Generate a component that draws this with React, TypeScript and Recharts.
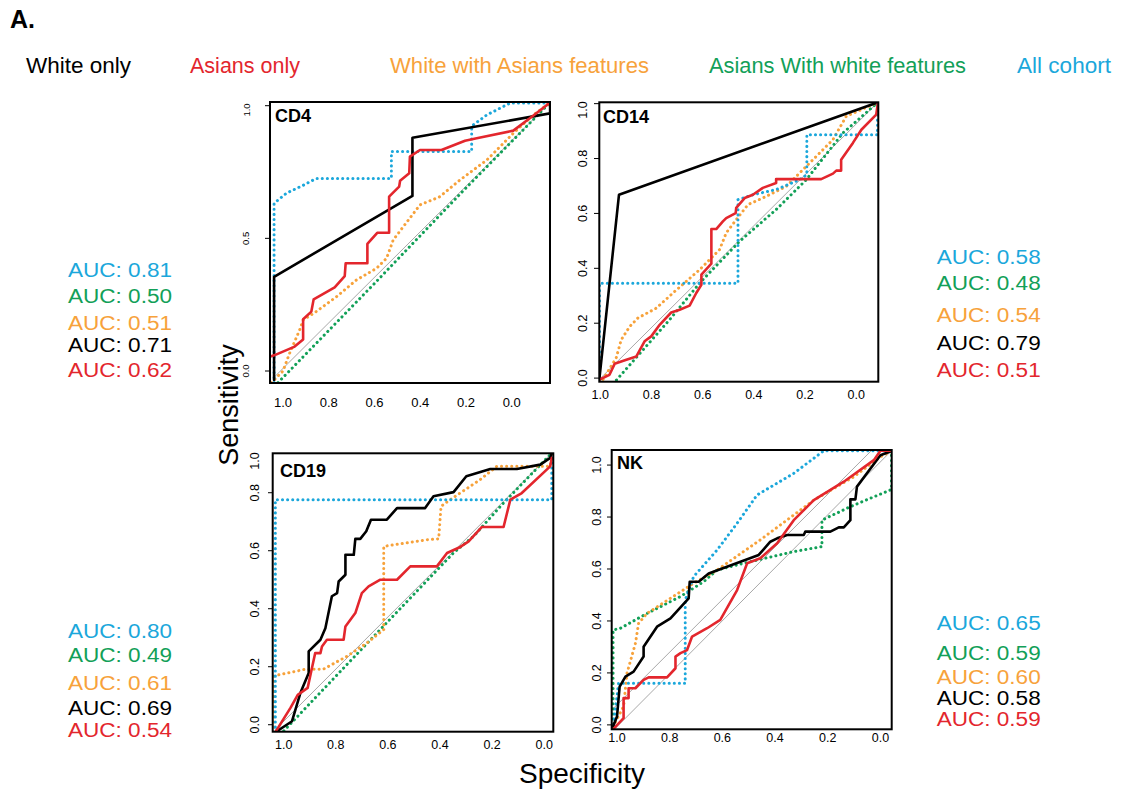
import { Line, LineChart, XAxis, YAxis } from "recharts";

type Pair = [number, number];

// Legend / series names
const SERIES = ["White only", "Asians only", "White with Asians features", "Asians With white features", "All cohort"];
const SERIES_COLORS = ["#000000", "#e3262d", "#f7a23b", "#12a058", "#1ba7db"];

// AUC labels, in the order printed: All cohort, Asians w/ white, White w/ Asians, White only, Asians only
const AUC_CD4 = [0.81, 0.5, 0.51, 0.71, 0.62];
const AUC_CD14 = [0.58, 0.48, 0.54, 0.79, 0.51];
const AUC_CD19 = [0.8, 0.49, 0.61, 0.69, 0.54];
const AUC_NK = [0.65, 0.59, 0.6, 0.58, 0.59];
const AUC_COLORS = ["#1ba7db", "#12a058", "#f7a23b", "#000000", "#e3262d"];

const X_TICKS = [0, 0.2, 0.4, 0.6, 0.8, 1.0];
const Y_TICKS = [0, 0.2, 0.4, 0.6, 0.8, 1.0];
const Y_TICKS_CD4 = [0, 0.5, 1.0];

// [specificity, sensitivity]
const CD4_WHITE: Pair[] = [[1.039, -0.034], [1.039, 0.355], [0.434, 0.66], [0.434, 0.879], [-0.168, 0.971], [-0.168, 1.012]];
const CD4_ASIAN: Pair[] = [[1.058, -0.044], [1.058, 0.054], [1.036, 0.06], [0.949, 0.092], [0.912, 0.119], [0.912, 0.195], [0.876, 0.224], [0.866, 0.27], [0.774, 0.315], [0.73, 0.358], [0.726, 0.406], [0.631, 0.406], [0.631, 0.479], [0.588, 0.521], [0.536, 0.521], [0.536, 0.657], [0.492, 0.695], [0.488, 0.717], [0.448, 0.745], [0.445, 0.808], [0.401, 0.833], [0.307, 0.833], [0.204, 0.868], [0.153, 0.877], [-0.007, 0.906], [-0.088, 0.958], [-0.168, 1.012]];
const CD4_WA: Pair[] = [[1.051, -0.044], [1.0, 0.0], [0.971, 0.067], [0.927, 0.155], [0.912, 0.192], [0.861, 0.22], [0.766, 0.28], [0.679, 0.343], [0.591, 0.387], [0.547, 0.425], [0.518, 0.494], [0.474, 0.544], [0.401, 0.626], [0.314, 0.657], [0.226, 0.72], [0.109, 0.795], [-0.007, 0.896], [-0.095, 0.965], [-0.168, 1.012]];
const CD4_AW: Pair[] = [[1.022, -0.044], [0.6, 0.33], [0.2, 0.69], [-0.168, 1.012]];
const CD4_ALL: Pair[] = [[1.039, -0.044], [1.039, 0.632], [0.985, 0.67], [0.912, 0.7], [0.854, 0.726], [0.526, 0.726], [0.526, 0.827], [0.175, 0.827], [0.175, 0.923], [0.109, 0.965], [0.007, 1.01], [-0.168, 1.01]];
const CD4_REF: Pair[] = [[1.044, -0.028], [-0.168, 1.012]];

const CD14_WHITE: Pair[] = [[1.005, -0.016], [0.927, 0.668], [-0.085, 1.005]];
const CD14_ASIAN: Pair[] = [[1.005, -0.006], [0.964, 0.012], [0.944, 0.052], [0.898, 0.067], [0.859, 0.079], [0.827, 0.134], [0.801, 0.152], [0.768, 0.194], [0.723, 0.239], [0.69, 0.249], [0.651, 0.264], [0.625, 0.31], [0.605, 0.34], [0.605, 0.377], [0.566, 0.417], [0.566, 0.543], [0.547, 0.543], [0.521, 0.571], [0.508, 0.583], [0.471, 0.601], [0.469, 0.62], [0.436, 0.656], [0.404, 0.668], [0.365, 0.693], [0.313, 0.711], [0.313, 0.725], [0.137, 0.725], [0.091, 0.745], [0.078, 0.756], [0.059, 0.756], [0.059, 0.796], [0.013, 0.857], [-0.02, 0.905], [-0.078, 0.96], [-0.085, 1.005]];
const CD14_WA: Pair[] = [[1.005, -0.016], [0.99, -0.006], [0.938, 0.073], [0.918, 0.14], [0.885, 0.188], [0.853, 0.219], [0.781, 0.255], [0.716, 0.31], [0.612, 0.395], [0.534, 0.468], [0.508, 0.529], [0.469, 0.577], [0.423, 0.632], [0.352, 0.662], [0.273, 0.699], [0.169, 0.796], [0.091, 0.869], [0.039, 0.954], [-0.085, 1.005]];
const CD14_AW: Pair[] = [[0.99, -0.021], [0.95, -0.021], [0.729, 0.213], [0.612, 0.346], [0.456, 0.498], [0.313, 0.614], [0.195, 0.723], [0.052, 0.893], [-0.085, 1.005]];
const CD14_ALL: Pair[] = [[1.003, -0.016], [1.003, 0.346], [0.462, 0.346], [0.462, 0.65], [0.404, 0.668], [0.313, 0.687], [0.221, 0.723], [0.193, 0.741], [0.193, 0.887], [-0.083, 0.887], [-0.083, 1.005]];
const CD14_REF: Pair[] = [[1.005, -0.006], [-0.085, 1.005]];

const CD19_WHITE: Pair[] = [[1.032, -0.026], [0.968, 0.012], [0.936, 0.109], [0.904, 0.178], [0.904, 0.253], [0.859, 0.293], [0.84, 0.333], [0.815, 0.443], [0.795, 0.454], [0.789, 0.494], [0.763, 0.517], [0.763, 0.586], [0.731, 0.586], [0.725, 0.641], [0.706, 0.641], [0.683, 0.667], [0.665, 0.707], [0.604, 0.707], [0.565, 0.747], [0.457, 0.747], [0.425, 0.788], [0.348, 0.802], [0.299, 0.857], [0.207, 0.882], [0.105, 0.882], [0.015, 0.897], [-0.023, 0.92], [-0.029, 0.937]];
const CD19_ASIAN: Pair[] = [[1.032, -0.026], [0.974, 0.058], [0.946, 0.103], [0.908, 0.127], [0.879, 0.247], [0.859, 0.247], [0.853, 0.27], [0.834, 0.293], [0.77, 0.293], [0.763, 0.339], [0.725, 0.385], [0.7, 0.454], [0.674, 0.477], [0.629, 0.5], [0.565, 0.5], [0.514, 0.546], [0.412, 0.546], [0.373, 0.592], [0.322, 0.613], [0.29, 0.632], [0.239, 0.682], [0.156, 0.682], [0.13, 0.776], [0.086, 0.799], [-0.023, 0.891], [-0.029, 0.92]];
const CD19_WA: Pair[] = [[1.038, -0.026], [1.038, 0.167], [1.019, 0.172], [0.923, 0.19], [0.847, 0.192], [0.757, 0.236], [0.68, 0.282], [0.616, 0.328], [0.616, 0.615], [0.45, 0.638], [0.405, 0.641], [0.396, 0.753], [0.361, 0.776], [0.246, 0.845], [0.182, 0.891], [-0.023, 0.891], [-0.029, 0.937]];
const CD19_AW: Pair[] = [[1.013, -0.034], [0.6, 0.356], [0.35, 0.591], [0.27, 0.651], [0.156, 0.765], [-0.029, 0.937]];
const CD19_ALL: Pair[] = [[1.032, -0.026], [1.032, 0.776], [-0.029, 0.776], [-0.029, 0.937]];
const CD19_REF: Pair[] = [[1.032, -0.017], [-0.029, 0.937]];

const NK_WHITE: Pair[] = [[1.015, -0.006], [1.0, 0.032], [0.99, 0.147], [0.968, 0.186], [0.937, 0.205], [0.899, 0.263], [0.899, 0.301], [0.848, 0.378], [0.797, 0.41], [0.728, 0.487], [0.724, 0.551], [0.69, 0.551], [0.652, 0.583], [0.462, 0.654], [0.418, 0.705], [0.392, 0.718], [0.354, 0.731], [0.291, 0.731], [0.285, 0.744], [0.19, 0.744], [0.158, 0.76], [0.139, 0.76], [0.114, 0.788], [0.114, 0.868], [0.095, 0.868], [0.089, 0.917], [0.0, 1.038], [-0.044, 1.055]];
const NK_ASIAN: Pair[] = [[1.015, -0.017], [0.975, 0.026], [0.975, 0.103], [0.956, 0.103], [0.956, 0.141], [0.93, 0.141], [0.899, 0.173], [0.88, 0.183], [0.81, 0.183], [0.778, 0.218], [0.778, 0.263], [0.759, 0.276], [0.734, 0.288], [0.715, 0.34], [0.658, 0.372], [0.608, 0.404], [0.544, 0.519], [0.506, 0.622], [0.456, 0.641], [0.392, 0.699], [0.329, 0.788], [0.253, 0.865], [0.139, 0.936], [0.025, 1.019], [0.0, 1.055], [-0.044, 1.055]];
const NK_WA: Pair[] = [[1.015, -0.006], [0.975, 0.071], [0.962, 0.199], [0.93, 0.314], [0.918, 0.391], [0.886, 0.429], [0.709, 0.545], [0.62, 0.596], [0.456, 0.712], [0.253, 0.865], [0.101, 0.955], [0.0, 1.032], [-0.044, 1.055]];
const NK_AW: Pair[] = [[1.015, -0.017], [1.015, 0.365], [0.987, 0.372], [0.886, 0.429], [0.759, 0.494], [0.671, 0.551], [0.62, 0.596], [0.519, 0.622], [0.329, 0.667], [0.222, 0.686], [0.222, 0.788], [0.114, 0.84], [-0.042, 0.906], [-0.042, 1.055]];
const NK_ALL: Pair[] = [[1.015, -0.017], [0.994, 0.16], [0.741, 0.16], [0.741, 0.481], [0.709, 0.571], [0.62, 0.673], [0.544, 0.776], [0.468, 0.885], [0.329, 0.968], [0.215, 1.055], [-0.044, 1.055]];
const NK_REF: Pair[] = [[1.019, 0.058], [0.032, 1.058]];
const NK_REF2: Pair[] = [[1.006, -0.013], [-0.038, 1.051]];

const FONT = "'Liberation Sans', Arial, sans-serif";
const YW = 40; // y axis width inside each chart
const PT = 6; // top margin
const PR = 6; // right margin
const XH = 30; // x axis height

const toPts = (p: Pair[]) => p.map(([x, y]) => ({ x, y }));

interface PanelDef {
  title: string;
  box: { l: number; t: number; r: number; b: number };
  xDom: [number, number];
  yDom: [number, number];
  yTicks: number[];
  xFont: number;
  yFont: number;
  xOff: number;
  yOff: number;
  titlePos: [number, number];
  series: Pair[][];
  refs: Pair[][];
}

const PANELS: PanelDef[] = [
  {
    title: "CD4",
    box: { l: 270, t: 102, r: 550, b: 383 },
    xDom: [-0.1675, 1.0568],
    yDom: [-0.0452, 1.0139],
    yTicks: Y_TICKS_CD4,
    xFont: 13,
    yFont: 9.5,
    xOff: 19,
    yOff: 24,
    titlePos: [275, 122],
    series: [CD4_WHITE, CD4_ASIAN, CD4_WA, CD4_AW, CD4_ALL],
    refs: [CD4_REF],
  },
  {
    title: "CD14",
    box: { l: 599.3, t: 102.3, r: 878.3, b: 381.7 },
    xDom: [-0.085, 1.005],
    yDom: [-0.012, 1.006],
    yTicks: Y_TICKS,
    xFont: 12.5,
    yFont: 12.5,
    xOff: 14,
    yOff: 16,
    titlePos: [603, 123],
    series: [CD14_WHITE, CD14_ASIAN, CD14_WA, CD14_AW, CD14_ALL],
    refs: [CD14_REF],
  },
  {
    title: "CD19",
    box: { l: 272.7, t: 453.3, r: 553.3, b: 731.7 },
    xDom: [-0.036, 1.041],
    yDom: [-0.023, 0.937],
    yTicks: Y_TICKS,
    xFont: 12.5,
    yFont: 12.5,
    xOff: 14,
    yOff: 18,
    titlePos: [280, 477],
    series: [CD19_WHITE, CD19_ASIAN, CD19_WA, CD19_AW, CD19_ALL],
    refs: [CD19_REF],
  },
  {
    title: "NK",
    box: { l: 611.7, t: 450, r: 891.7, b: 729.3 },
    xDom: [-0.044, 1.019],
    yDom: [-0.017, 1.058],
    yTicks: Y_TICKS,
    xFont: 12.5,
    yFont: 12.5,
    xOff: 9,
    yOff: 15,
    titlePos: [617, 469],
    series: [NK_WHITE, NK_ASIAN, NK_WA, NK_AW, NK_ALL],
    refs: [NK_REF, NK_REF2],
  },
];

// AUC block positions: [x, baselines, values]
const AUC_BLOCKS: { x: number; ys: number[]; vals: number[] }[] = [
  { x: 68, ys: [276.7, 303, 330, 351.7, 376.7], vals: AUC_CD4 },
  { x: 936.7, ys: [264, 290, 321.7, 350, 376.7], vals: AUC_CD14 },
  { x: 68, ys: [638.3, 661.7, 690, 715, 736.7], vals: AUC_CD19 },
  { x: 936.7, ys: [630, 660, 684.3, 705, 725.7], vals: AUC_NK },
];

const LEGEND_X = [26, 190, 390, 709, 1017];
const LEGEND_W = [105, 110, 259, 257, 94];

// draw order: green, orange, blue, black, red
const DRAW_ORDER = [3, 2, 4, 0, 1];

function Panel({ p }: { p: PanelDef }) {
  const w = p.box.r - p.box.l;
  const h = p.box.b - p.box.t;
  const xTick = (props: any) => (
    <text
      x={props.x}
      y={PT + h + p.xOff}
      textAnchor="middle"
      dominantBaseline="central"
      fontSize={p.xFont}
      fontFamily={FONT}
      fill="#000"
    >
      {Number(props.payload.value).toFixed(1)}
    </text>
  );
  const yTick = (props: any) => {
    // keep a label that falls above the frame just inside it
    const y = Math.max(props.y, PT + 8);
    const x = YW - p.yOff;
    return (
      <g>
        {props.y >= PT && <line x1={YW - 5} x2={YW} y1={props.y} y2={props.y} stroke="#000" strokeWidth={1} />}
        <text
          x={x}
          y={y}
          transform={`rotate(-90 ${x} ${y})`}
          textAnchor="middle"
          dominantBaseline="central"
          fontSize={p.yFont}
          fontFamily={FONT}
          fill="#000"
        >
          {Number(props.payload.value).toFixed(1)}
        </text>
      </g>
    );
  };
  return (
    <div style={{ position: "absolute", left: p.box.l - YW, top: p.box.t - PT }}>
      <LineChart width={YW + w + PR} height={PT + h + XH} margin={{ top: PT, right: PR, left: 0, bottom: 0 }}>
        <XAxis
          type="number"
          dataKey="x"
          domain={p.xDom}
          reversed
          allowDataOverflow
          ticks={X_TICKS}
          interval={0}
          axisLine={false}
          tickLine={false}
          tickSize={0}
          tickMargin={0}
          height={XH}
          tick={xTick}
        />
        <YAxis
          type="number"
          dataKey="y"
          domain={p.yDom}
          allowDataOverflow
          ticks={p.yTicks}
          interval={0}
          axisLine={false}
          tickLine={false}
          tickSize={5}
          tickMargin={0}
          width={YW}
          tick={yTick}
        />
        {p.refs.map((r, i) => (
          <Line
            key={`ref${i}`}
            data={toPts(r)}
            dataKey="y"
            type="linear"
            stroke="#a8a8a8"
            strokeWidth={1}
            dot={false}
            isAnimationActive={false}
          />
        ))}
        {DRAW_ORDER.map((si) => {
          const dotted = si >= 2;
          return (
            <Line
              key={SERIES[si]}
              name={SERIES[si]}
              data={toPts(p.series[si])}
              dataKey="y"
              type="linear"
              stroke={SERIES_COLORS[si]}
              strokeWidth={dotted ? 3 : 2.6}
              strokeDasharray={dotted ? "0.1 5" : undefined}
              strokeLinecap="round"
              strokeLinejoin="round"
              dot={false}
              isAnimationActive={false}
            />
          );
        })}
      </LineChart>
    </div>
  );
}

export default function App() {
  return (
    <div style={{ position: "absolute", left: 0, top: 0, width: 1121, height: 794, background: "#fff", overflow: "hidden" }}>
      {PANELS.map((p) => (
        <Panel key={p.title} p={p} />
      ))}
      <svg width={1121} height={794} style={{ position: "absolute", left: 0, top: 0, pointerEvents: "none" }}>
        <text x={10} y={28} fontFamily={FONT} fontWeight="bold" fontSize={25} fill="#000">
          A.
        </text>
        {SERIES.map((s, i) => (
          <text
            key={s}
            x={LEGEND_X[i]}
            y={73}
            fontFamily={FONT}
            fontSize={22}
            fill={SERIES_COLORS[i]}
            textLength={LEGEND_W[i]}
            lengthAdjust="spacingAndGlyphs"
          >
            {s}
          </text>
        ))}
        {PANELS.map((p) => (
          <g key={p.title}>
            <rect
              x={p.box.l}
              y={p.box.t}
              width={p.box.r - p.box.l}
              height={p.box.b - p.box.t}
              fill="none"
              stroke="#000"
              strokeWidth={2}
            />
            <text x={p.titlePos[0]} y={p.titlePos[1]} fontFamily={FONT} fontWeight="bold" fontSize={18} fill="#000">
              {p.title}
            </text>
          </g>
        ))}
        {AUC_BLOCKS.map((b, bi) =>
          b.vals.map((v, i) => (
            <text
              key={`${bi}-${i}`}
              x={b.x}
              y={b.ys[i]}
              fontFamily={FONT}
              fontSize={20}
              fill={AUC_COLORS[i]}
              textLength={104}
              lengthAdjust="spacingAndGlyphs"
            >
              {`AUC: ${v.toFixed(2)}`}
            </text>
          ))
        )}
        <text
          x={238}
          y={405}
          transform="rotate(-90 238 405)"
          textAnchor="middle"
          fontFamily={FONT}
          fontSize={27}
          fill="#000"
        >
          Sensitivity
        </text>
        <text x={582} y={783} textAnchor="middle" fontFamily={FONT} fontSize={28} fill="#000">
          Specificity
        </text>
      </svg>
    </div>
  );
}
